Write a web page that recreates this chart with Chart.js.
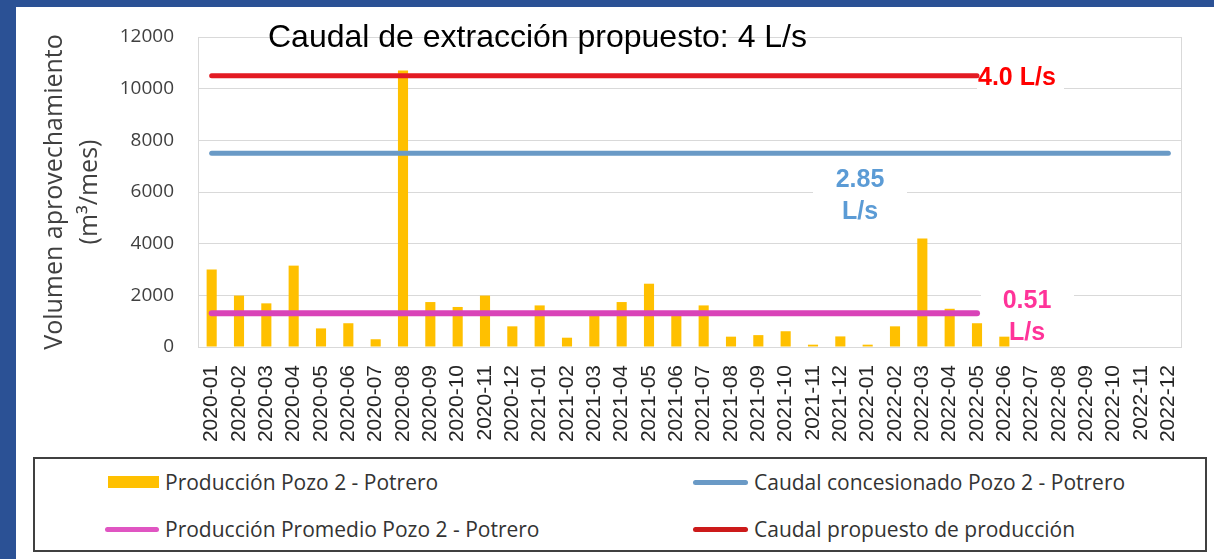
<!DOCTYPE html>
<html lang="es">
<head>
<meta charset="utf-8">
<title>Pozo 2 - Potrero</title>
<script src="https://cdn.jsdelivr.net/npm/chart.js@4.4.1/dist/chart.umd.min.js"></script>
<style>
    html, body { margin: 0; padding: 0; }
    body { width: 1214px; height: 559px; background: #2b5195; position: relative; overflow: hidden; }
    #panel { position: absolute; left: 16px; top: 7px; width: 1198px; height: 552px; background: #fff; }
    #grafico { position: absolute; left: 0; top: 0; }
    #leyenda { position: absolute; left: 17px; top: 450px; width: 1170px; height: 91px; border: 2px solid #404040; }
    .item { position: absolute; height: 30px; display: flex; align-items: center;
            font-family: "Open Sans", sans-serif; font-size: 21px; color: #333; white-space: nowrap; }
    .marca { display: inline-block; margin-right: 6px; }
</style>
</head>
<body>
<div id="panel">
    <canvas id="grafico" width="1198" height="443"></canvas>
    <div id="leyenda"></div>
</div>
<script>
// --- DATOS ---
const meses = [
    '2020-01', '2020-02', '2020-03', '2020-04', '2020-05', '2020-06',
    '2020-07', '2020-08', '2020-09', '2020-10', '2020-11', '2020-12',
    '2021-01', '2021-02', '2021-03', '2021-04', '2021-05', '2021-06',
    '2021-07', '2021-08', '2021-09', '2021-10', '2021-11', '2021-12',
    '2022-01', '2022-02', '2022-03', '2022-04', '2022-05', '2022-06',
    '2022-07', '2022-08', '2022-09', '2022-10', '2022-11', '2022-12'
];

// m3/mes producidos
const produccion = [
    3000, 1990, 1690, 3150, 720, 920, 300, 10700, 1740, 1550, 1990, 800,
    1610, 360, 1210, 1740, 2450, 1260, 1610, 400, 460, 610, 90, 410,
    90, 800, 4200, 1480, 920, 400, null, null, null, null, null, null
];

// líneas horizontales (inicio y fin de cada una)
const caudalConcesionado = [{ x: '2020-01', y: 7500 }, { x: '2022-12', y: 7500 }];
const produccionPromedio = [{ x: '2020-01', y: 1310 }, { x: '2022-05', y: 1310 }];
const caudalPropuesto = [{ x: '2020-01', y: 10500 }, { x: '2022-05', y: 10500 }];

const ticksY = [0, 2000, 4000, 6000, 8000, 10000, 12000];

const tituloTexto = 'Caudal de extracción propuesto: 4 L/s';

// --- ETIQUETAS SOBRE LAS LÍNEAS ---
// pos = posición (índice de categoría) del centro o del inicio del texto
const etiquetas = [
    { lineas: ['4.0 L/s'], color: '#ff0000', pos: 28, valor: 10500, alinear: 'left',
      dx: 1, base: [9], caja: [-1, -14, 87, 32] },
    { lineas: ['2.85', 'L/s'], color: '#5b9bd5', pos: 23.72, valor: 7500, alinear: 'center',
      dx: 0, base: [34, 65.5], caja: [-47, 12, 94, 60] },
    { lineas: ['0.51', 'L/s'], color: '#ff3399', pos: 29.83, valor: 1310, alinear: 'center',
      dx: 0, base: [-5, 27], caja: [-46, -30, 93, 62] }
];

const pluginEtiquetas = {
    id: 'etiquetas',
    beforeDatasetsDraw(chart) {
        const { ctx, chartArea: a, scales: { x, y } } = chart;
        ctx.save();
        // marco del área de trazado
        ctx.strokeStyle = '#d9d9d9';
        ctx.lineWidth = 1;
        ctx.beginPath();
        ctx.moveTo(Math.round(a.left) + 0.5, a.top);
        ctx.lineTo(Math.round(a.left) + 0.5, a.bottom);
        ctx.moveTo(Math.round(a.right) - 0.5, a.top);
        ctx.lineTo(Math.round(a.right) - 0.5, a.bottom);
        ctx.stroke();
        // cajas blancas detrás de las etiquetas
        ctx.fillStyle = '#fff';
        etiquetas.forEach(e => {
            const px = x.getPixelForValue(e.pos) + e.dx;
            const py = y.getPixelForValue(e.valor);
            ctx.fillRect(px + e.caja[0], py + e.caja[1], e.caja[2], e.caja[3]);
        });
        ctx.restore();
    },
    afterDatasetsDraw(chart) {
        const { ctx, scales: { x, y } } = chart;
        ctx.save();
        ctx.font = 'bold 25px "Liberation Sans", Arial, sans-serif';
        ctx.textBaseline = 'alphabetic';
        etiquetas.forEach(e => {
            const px = x.getPixelForValue(e.pos) + e.dx;
            const py = y.getPixelForValue(e.valor);
            ctx.fillStyle = e.color;
            ctx.textAlign = e.alinear;
            e.lineas.forEach((t, i) => ctx.fillText(t, px, py + e.base[i]));
        });
        // título dentro del gráfico
        ctx.font = '32px "Liberation Sans", Arial, sans-serif';
        ctx.fillStyle = '#000';
        ctx.textAlign = 'left';
        ctx.fillText(tituloTexto, 252, 40);
        ctx.restore();
    }
};

document.addEventListener('DOMContentLoaded', () => {
    const ctx = document.getElementById('grafico').getContext('2d');

    const chart = new Chart(ctx, {
        type: 'bar',
        data: {
            labels: meses,
            datasets: [
                {
                    type: 'line', label: 'Caudal propuesto de producción', data: caudalPropuesto,
                    borderColor: '#e31b23', legendColor: '#cc1a1a', borderWidth: 5, borderCapStyle: 'round',
                    pointRadius: 0, order: 1
                },
                {
                    type: 'line', label: 'Caudal concesionado Pozo 2 - Potrero', data: caudalConcesionado,
                    borderColor: '#6a9ac6', legendColor: '#6a9ac6', borderWidth: 5, borderCapStyle: 'round',
                    pointRadius: 0, order: 1
                },
                {
                    type: 'line', label: 'Producción Promedio Pozo 2 - Potrero', data: produccionPromedio,
                    borderColor: '#d943b8', legendColor: '#e055c2', borderWidth: 6, borderCapStyle: 'round',
                    pointRadius: 0, order: 1
                },
                {
                    label: 'Producción Pozo 2 - Potrero', data: produccion,
                    backgroundColor: '#ffc000', legendColor: '#ffc000',
                    barPercentage: 0.37, categoryPercentage: 1, order: 2
                }
            ]
        },
        options: {
            responsive: false,
            animation: false,
            layout: { padding: { top: 30, right: 32, left: 0, bottom: 0 } },
            plugins: { legend: { display: false }, tooltip: { enabled: false } },
            scales: {
                x: {
                    grid: { display: false },
                    border: { display: false },
                    ticks: {
                        autoSkip: false, maxRotation: 90, minRotation: 90, padding: 10,
                        color: '#262626', font: { family: '"Liberation Sans", Arial', size: 21 }
                    },
                    afterFit: s => { s.height = 103; }
                },
                y: {
                    min: 0, max: 12000,
                    afterBuildTicks: s => { s.ticks = ticksY.map(v => ({ value: v })); },
                    // marcas invisibles: separan las etiquetas del eje sin añadir margen arriba
                    grid: { color: '#d9d9d9', lineWidth: 1, drawTicks: true, tickLength: 24, tickColor: 'rgba(0,0,0,0)' },
                    border: { display: false },
                    ticks: {
                        padding: 0, color: '#404040',
                        font: { family: '"Open Sans"', size: 19 },
                        callback: v => String(v)
                    },
                    title: {
                        display: true,
                        text: ['Volumen aprovechamiento', '(m³/mes)'],
                        color: '#404040',
                        font: { family: '"Open Sans"', size: 25, lineHeight: 1.4 },
                        padding: { top: 21, bottom: 0 }
                    },
                    afterFit: s => { s.width = 182; }
                }
            }
        },
        plugins: [pluginEtiquetas]
    });

    // --- LEYENDA (HTML, a partir de los datasets) ---
    // posición de cada entrada dentro del recuadro: [izquierda, centro vertical, ancho marca, alto marca]
    const posLeyenda = {
        'Producción Pozo 2 - Potrero': [73, 23, 51, 12],
        'Caudal concesionado Pozo 2 - Potrero': [658, 23, 55, 5],
        'Producción Promedio Pozo 2 - Potrero': [70, 70, 54, 5],
        'Caudal propuesto de producción': [658, 70, 55, 5]
    };
    const leyenda = document.getElementById('leyenda');
    chart.data.datasets.forEach(ds => {
        const p = posLeyenda[ds.label];
        const item = document.createElement('div');
        item.className = 'item';
        item.style.left = p[0] + 'px';
        item.style.top = (p[1] - 15) + 'px';
        const marca = document.createElement('span');
        marca.className = 'marca';
        marca.style.width = p[2] + 'px';
        marca.style.height = p[3] + 'px';
        marca.style.background = ds.legendColor;
        if (ds.type === 'line') marca.style.borderRadius = '3px';
        item.appendChild(marca);
        item.appendChild(document.createTextNode(ds.label));
        leyenda.appendChild(item);
    });
});
</script>
</body>
</html>
